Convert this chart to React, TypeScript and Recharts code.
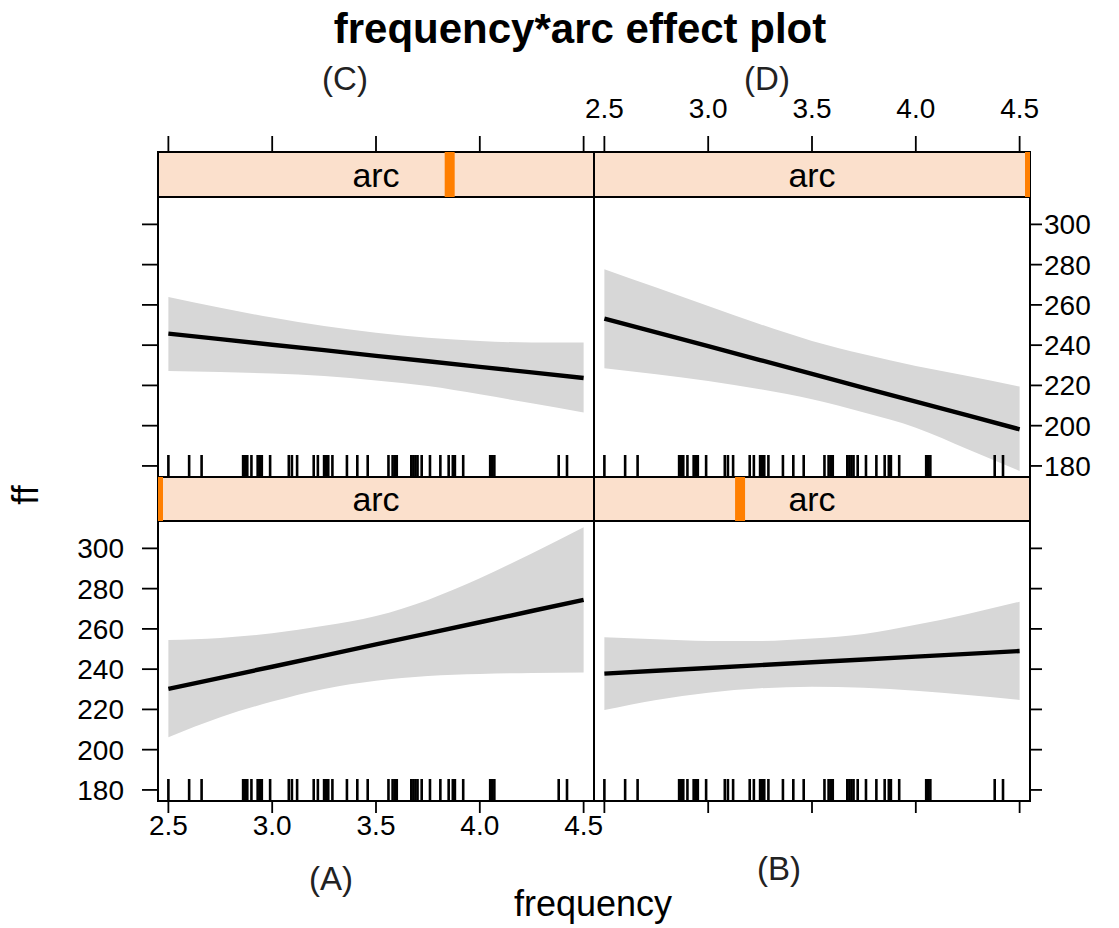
import React from "react";
import {
  ComposedChart,
  Area,
  Line,
  Scatter,
  XAxis,
  YAxis,
  ReferenceArea,
  ReferenceLine,
  Label,
} from "recharts";

// frequency grid the effect curves are read at
const freqGrid = [2.5, 2.75, 3.0, 3.25, 3.5, 3.75, 4.0, 4.25, 4.5];
const freqTicks = [2.5, 3.0, 3.5, 4.0, 4.5];
const ffTicks = [180, 200, 220, 240, 260, 280, 300];

// observed frequency values (rug)
const rugFreq = [
  2.5, 2.6, 2.66, 2.86, 2.87, 2.88, 2.9, 2.93, 2.94, 2.95, 2.99, 3.08, 3.095,
  3.12, 3.2, 3.22, 3.25, 3.26, 3.27, 3.29, 3.36, 3.41, 3.46, 3.56, 3.58, 3.59,
  3.6, 3.67, 3.68, 3.69, 3.7, 3.72, 3.76, 3.81, 3.85, 3.87, 3.88, 3.92, 4.05,
  4.06, 4.07, 4.38, 4.42,
];

// panel (A)
const fitA = [230.2, 235.7, 241.2, 246.7, 252.3, 257.8, 263.3, 268.9, 274.4];
const lowerA = [206.2, 216.1, 223.9, 230.2, 234.3, 236.6, 237.6, 238.1, 238.3];
const upperA = [254.5, 255.5, 257.8, 261.5, 266.4, 274.4, 285.1, 297.5, 310.5];

// panel (B)
const fitB = [237.8, 239.2, 240.6, 242.0, 243.4, 244.8, 246.2, 247.6, 249.0];
const lowerB = [219.7, 224.7, 228.3, 230.5, 231.3, 230.8, 229.3, 227.2, 224.7];
const upperB = [255.8, 254.8, 254.0, 254.0, 255.2, 257.5, 262.0, 267.4, 273.5];

// panel (C)
const fitC = [245.7, 243.0, 240.2, 237.5, 234.7, 232.0, 229.2, 226.5, 223.7];
const lowerC = [227.2, 226.7, 225.9, 224.7, 222.5, 219.7, 215.6, 211.1, 206.5];
const upperC = [263.9, 258.6, 253.7, 249.5, 246.2, 243.7, 242.1, 241.3, 241.3];

// panel (D)
const fitD = [253.2, 246.3, 239.5, 232.6, 225.7, 218.8, 211.9, 205.1, 198.2];
const lowerD = [228.5, 225.5, 222.2, 218.1, 213.1, 206.5, 199.0, 188.3, 177.5];
const upperD = [277.7, 268.6, 259.5, 250.4, 242.1, 235.5, 229.7, 224.7, 219.4];

// arc value of each panel, as a share of the arc range
const arcA = 0;
const arcB = 0.335;
const arcC = 0.669;
const arcD = 1;

const X_DOMAIN: [number, number] = [2.45, 4.55];
const Y_DOMAIN: [number, number] = [174.5, 313.6];
const PW = 436;
const PH = 280;
const FONT = "'Liberation Sans', Arial, Helvetica, sans-serif";
const tickFont = { fill: "#000", fontSize: 28, fontFamily: FONT };
const tickStroke = { stroke: "#000", strokeWidth: 1.8 };
const blank = () => "";

function rowsOf(fit: number[], lo: number[], hi: number[]) {
  return freqGrid.map((f, i) => ({ f, fit: fit[i], band: [lo[i], hi[i]] }));
}

const rugRows = rugFreq.map((f) => ({ f, base: Y_DOMAIN[0] }));

const RugTick = (p: any) => (
  <line
    x1={p.cx}
    x2={p.cx}
    y1={p.cy}
    y2={p.cy - 22}
    stroke="#000"
    strokeWidth={2.6}
  />
);

type Side = "labels" | "ticks" | "none";

function sideProps(s: Side, fmt: (v: number) => string) {
  return {
    tickLine: s !== "none" ? tickStroke : false,
    tick: s === "none" ? false : tickFont,
    tickFormatter: s === "labels" ? fmt : blank,
  };
}

function Panel({
  left,
  top,
  rows,
  yLeft,
  yRight,
  xBottom,
}: {
  left: number;
  top: number;
  rows: any[];
  yLeft: Side;
  yRight: Side;
  xBottom: Side;
}) {
  const padL = 130;
  const padR = 110;
  const padT = 10;
  const padB = 70;
  return (
    <div style={{ position: "absolute", left: left - padL, top: top - padT }}>
      <ComposedChart
        width={PW + padL + padR}
        height={PH + padT + padB}
        data={rows}
        margin={{ top: padT, left: padL - 100, right: padR - 100, bottom: padB - 60 }}
      >
        <XAxis
          dataKey="f"
          type="number"
          domain={X_DOMAIN}
          ticks={freqTicks}
          allowDataOverflow
          height={60}
          axisLine={false}
          tickSize={12}
          tickMargin={2}
          {...sideProps(xBottom, (v) => v.toFixed(1))}
        />
        <YAxis
          yAxisId="l"
          type="number"
          domain={Y_DOMAIN}
          ticks={ffTicks}
          allowDataOverflow
          width={100}
          axisLine={false}
          tickSize={16}
          tickMargin={18}
          {...sideProps(yLeft, (v) => String(v))}
        />
        <YAxis
          yAxisId="r"
          orientation="right"
          type="number"
          domain={Y_DOMAIN}
          ticks={ffTicks}
          allowDataOverflow
          width={100}
          axisLine={false}
          tickSize={12}
          tickMargin={2}
          {...sideProps(yRight, (v) => String(v))}
        />
        <Area
          yAxisId="l"
          dataKey="band"
          type="monotone"
          stroke="none"
          fill="#d7d7d7"
          fillOpacity={1}
          isAnimationActive={false}
        />
        <Line
          yAxisId="l"
          dataKey="fit"
          type="linear"
          stroke="#000"
          strokeWidth={4.4}
          dot={false}
          isAnimationActive={false}
        />
        <Scatter
          yAxisId="l"
          data={rugRows}
          dataKey="base"
          shape={RugTick}
          isAnimationActive={false}
        />
        <ReferenceArea
          yAxisId="l"
          x1={X_DOMAIN[0]}
          x2={X_DOMAIN[1]}
          y1={Y_DOMAIN[0]}
          y2={Y_DOMAIN[1]}
          fill="none"
          stroke="#000"
          strokeWidth={2}
        />
      </ComposedChart>
    </div>
  );
}

function Strip({
  left,
  top,
  height,
  arc,
  topAxis,
}: {
  left: number;
  top: number;
  height: number;
  arc: number;
  topAxis: Side;
}) {
  const padX = 30;
  const padT = 70;
  const padB = 10;
  const row = [{ f: freqTicks[0], arc, s: 0.5 }];
  return (
    <div style={{ position: "absolute", left: left - padX, top: top - padT }}>
      <ComposedChart
        width={PW + padX * 2}
        height={height + padT + padB}
        data={row}
        margin={{ top: padT - 60, left: padX, right: padX, bottom: padB }}
      >
        <XAxis
          xAxisId="f"
          dataKey="f"
          orientation="top"
          type="number"
          domain={X_DOMAIN}
          ticks={freqTicks}
          allowDataOverflow
          height={60}
          axisLine={false}
          tickSize={16}
          tickMargin={18}
          {...sideProps(topAxis, (v) => v.toFixed(1))}
        />
        <XAxis xAxisId="arc" dataKey="arc" type="number" domain={[0, 1]} hide />
        <YAxis yAxisId="s" dataKey="s" type="number" domain={[0, 1]} hide />
        <ReferenceArea
          xAxisId="arc"
          yAxisId="s"
          x1={0}
          x2={1}
          y1={0}
          y2={1}
          fill="#fbe0cc"
          fillOpacity={1}
          stroke="none"
        >
          <Label
            value="arc"
            position="center"
            fill="#000"
            fontSize={34}
            fontFamily={FONT}
          />
        </ReferenceArea>
        <ReferenceLine
          xAxisId="arc"
          yAxisId="s"
          x={arc}
          stroke="#ff7f00"
          strokeWidth={10}
          ifOverflow="hidden"
        />
        <ReferenceArea
          xAxisId="arc"
          yAxisId="s"
          x1={0}
          x2={1}
          y1={0}
          y2={1}
          fill="none"
          stroke="#000"
          strokeWidth={2}
        />
      </ComposedChart>
    </div>
  );
}

export default function App() {
  const LX = 158;
  const RX = 594;
  const TY = 197;
  const BY = 521;
  return (
    <div
      style={{
        position: "absolute",
        left: 0,
        top: 0,
        width: 1119,
        height: 928,
        background: "#fff",
        fontFamily: FONT,
        overflow: "hidden",
      }}
    >
      <Panel left={LX} top={TY} rows={rowsOf(fitC, lowerC, upperC)} yLeft="ticks" yRight="none" xBottom="none" />
      <Panel left={RX} top={TY} rows={rowsOf(fitD, lowerD, upperD)} yLeft="none" yRight="labels" xBottom="none" />
      <Panel left={LX} top={BY} rows={rowsOf(fitA, lowerA, upperA)} yLeft="labels" yRight="none" xBottom="labels" />
      <Panel left={RX} top={BY} rows={rowsOf(fitB, lowerB, upperB)} yLeft="none" yRight="ticks" xBottom="ticks" />
      <Strip left={LX} top={152} height={45} arc={arcC} topAxis="ticks" />
      <Strip left={RX} top={152} height={45} arc={arcD} topAxis="labels" />
      <Strip left={LX} top={477} height={44} arc={arcA} topAxis="none" />
      <Strip left={RX} top={477} height={44} arc={arcB} topAxis="none" />
      <svg
        width={1119}
        height={928}
        style={{ position: "absolute", left: 0, top: 0, pointerEvents: "none" }}
      >
        <text x={580} y={43} textAnchor="middle" fontSize={42} fontWeight="bold" fill="#000">
          frequency*arc effect plot
        </text>
        <text x={345} y={90} textAnchor="middle" fontSize={33} fill="#222">(C)</text>
        <text x={767} y={90} textAnchor="middle" fontSize={33} fill="#222">(D)</text>
        <text x={331} y={890} textAnchor="middle" fontSize={33} fill="#222">(A)</text>
        <text x={779} y={880} textAnchor="middle" fontSize={33} fill="#222">(B)</text>
        <text x={593} y={916} textAnchor="middle" fontSize={36} fill="#000">frequency</text>
        <text
          transform="translate(38,495) rotate(-90)"
          textAnchor="middle"
          fontSize={36}
          fill="#000"
        >
          ff
        </text>
      </svg>
    </div>
  );
}
